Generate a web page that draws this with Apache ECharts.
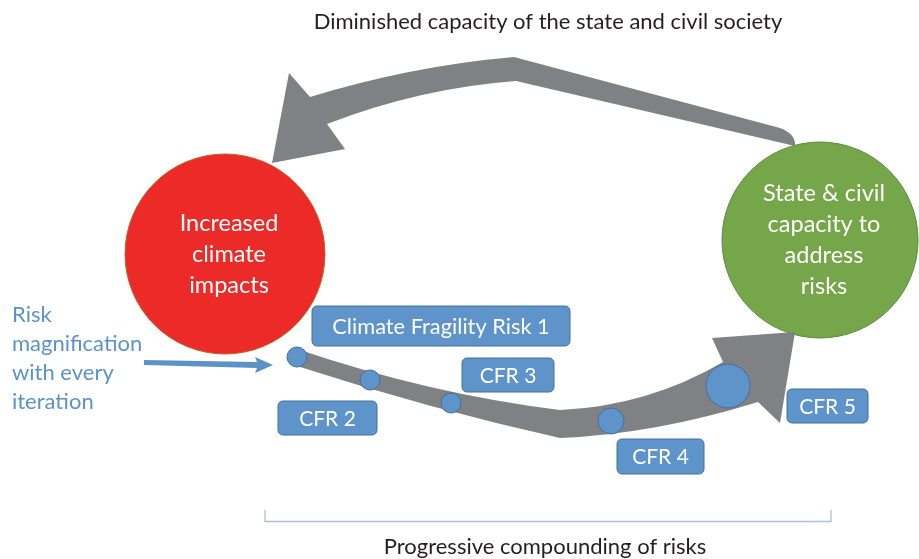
<!DOCTYPE html>
<html><head><meta charset="utf-8">
<script src="https://cdn.jsdelivr.net/npm/echarts@6/dist/echarts.min.js"></script>
<style>html,body{margin:0;padding:0;background:#fff}#c{width:919px;height:559px}</style>
</head><body><div id="c"></div>
<script>
// ---- data ----
const bigLabels = ['Increased\nclimate\nimpacts', 'State & civil\ncapacity to\naddress\nrisks'];
const bigX = [225, 820];
const bigY = [254, 240];
const bigR = [100, 98];
const bigFill = ['#EC2A27', '#76A64A'];
const bigStroke = ['#B8642A', '#5B8A38'];

const nodeX = [297, 370, 451, 611, 728];
const nodeY = [357, 380, 403, 421, 386];
const nodeR = [10, 10, 10, 13, 22];

const boxLabels = ['Climate Fragility Risk 1', 'CFR 2', 'CFR 3', 'CFR 4', 'CFR 5'];
const boxX0 = [312, 278, 462, 617, 787];
const boxY0 = [306, 401, 358, 439, 389];
const boxX1 = [570, 377, 554, 704, 868];
const boxY1 = [346, 435, 392, 474, 423];

// arrow outlines: [cmd, x, y, ...]
const topArrow = [
  ['M', 780, 128], ['L', 514, 57], ['Q', 411, 66, 310, 97], ['L', 289, 73],
  ['L', 272, 163], ['L', 345, 149], ['L', 327, 124], ['Q', 420, 88, 516, 81],
  ['L', 795, 146], ['Q', 796, 134, 780, 128], ['Z']
];
const bottomArrow = [
  ['M', 297, 349], ['Q', 430, 394, 560, 410], ['Q', 648, 406, 723, 362], ['L', 712, 338],
  ['L', 795, 332], ['L', 780, 423], ['L', 758, 402], ['Q', 655, 434, 560, 438],
  ['Q', 430, 409, 297, 366], ['Z']
];
const blueArrow = [
  ['M', 144, 360], ['L', 257, 362], ['L', 255, 357], ['L', 273, 365], ['L', 255, 373],
  ['L', 257, 368], ['L', 144, 365], ['Z']
];
const bracket = [['M', 265, 510], ['L', 265, 521.5], ['L', 831, 521.5], ['L', 831, 510]];

const texts = ['Diminished capacity of the state and civil society', 'Progressive compounding of risks', 'Risk\nmagnification\nwith every\niteration'];
const textX = [548, 545, 12];
const textY = [22, 547, 358];

// ---- rendering ----
const FONT = 'Lato';
function pathStr(segs, api) {
  return segs.map(s => {
    const c = s[0];
    const pts = [];
    for (let i = 1; i < s.length; i += 2) {
      const p = api.coord([s[i], s[i + 1]]);
      pts.push(p[0].toFixed(2) + ' ' + p[1].toFixed(2));
    }
    return c + ' ' + pts.join(' ');
  }).join(' ');
}
function shapeSeries(segs, fill, stroke, lw, z) {
  return {
    type: 'custom', coordinateSystem: 'cartesian2d', z: z, silent: true,
    data: [[0, 0]],
    renderItem: (p, api) => ({
      type: 'path',
      shape: { pathData: pathStr(segs, api) },
      style: fill ? { fill: fill } : { fill: null, stroke: stroke, lineWidth: lw }
    })
  };
}

const chart = echarts.init(document.getElementById('c'), null, { renderer: 'canvas' });
chart.setOption({
  animation: false,
  backgroundColor: '#ffffff',
  grid: { left: 0, right: 0, top: 0, bottom: 0 },
  xAxis: { type: 'value', min: 0, max: 919, show: false },
  yAxis: { type: 'value', min: 0, max: 559, inverse: true, show: false },
  series: [
    {
      type: 'custom', coordinateSystem: 'cartesian2d', z: 2, silent: true,
      data: bigX.map((x, i) => [x, bigY[i], bigR[i], i]),
      renderItem: (p, api) => {
        const i = api.value(3);
        const c = api.coord([api.value(0), api.value(1)]);
        const r = api.size([api.value(2), 0])[0];
        return {
          type: 'group', children: [
            { type: 'circle', shape: { cx: c[0], cy: c[1], r: r }, style: { fill: bigFill[i], stroke: bigStroke[i], lineWidth: 1 } },
            { type: 'text', x: c[0] + 4, y: c[1], style: { text: bigLabels[i], fill: '#fff', font: '23.5px ' + FONT, align: 'center', verticalAlign: 'middle', lineHeight: 31 } }
          ]
        };
      }
    },
    shapeSeries(topArrow, '#808184', null, 0, 1),
    shapeSeries(bottomArrow, '#808184', null, 0, 3),
    shapeSeries(blueArrow, '#5B93C7', null, 0, 3),
    shapeSeries(bracket, null, '#A9C0DD', 1.3, 3),
    {
      type: 'custom', coordinateSystem: 'cartesian2d', z: 4, silent: true,
      data: nodeX.map((x, i) => [x, nodeY[i], nodeR[i]]),
      renderItem: (p, api) => {
        const c = api.coord([api.value(0), api.value(1)]);
        const r = api.size([api.value(2), 0])[0];
        return { type: 'circle', shape: { cx: c[0], cy: c[1], r: r }, style: { fill: '#5E94C9', stroke: '#41719C', lineWidth: 1 } };
      }
    },
    {
      type: 'custom', coordinateSystem: 'cartesian2d', z: 5, silent: true,
      data: boxLabels.map((l, i) => [boxX0[i], boxY0[i], boxX1[i], boxY1[i], i]),
      renderItem: (p, api) => {
        const a = api.coord([api.value(0), api.value(1)]);
        const b = api.coord([api.value(2), api.value(3)]);
        const i = api.value(4);
        return {
          type: 'group', children: [
            { type: 'rect', shape: { x: a[0], y: a[1], width: b[0] - a[0], height: b[1] - a[1], r: 5 }, style: { fill: '#5E94C9', stroke: '#41719C', lineWidth: 1 } },
            { type: 'text', x: (a[0] + b[0]) / 2, y: (a[1] + b[1]) / 2 + 1, style: { text: boxLabels[i], fill: '#fff', font: (i === 0 ? '21.8px ' : '21px ') + FONT, align: 'center', verticalAlign: 'middle' } }
          ]
        };
      }
    },
    {
      type: 'custom', coordinateSystem: 'cartesian2d', z: 6, silent: true,
      data: texts.map((t, i) => [textX[i], textY[i], i]),
      renderItem: (p, api) => {
        const i = api.value(2);
        const c = api.coord([api.value(0), api.value(1)]);
        return {
          type: 'text', x: c[0], y: c[1],
          style: {
            text: texts[i], fill: i === 2 ? '#5B93C7' : '#231F20',
            font: '22px ' + FONT,
            align: i === 2 ? 'left' : 'center', verticalAlign: 'middle', lineHeight: 29
          }
        };
      }
    }
  ]
});
</script>
</body></html>
